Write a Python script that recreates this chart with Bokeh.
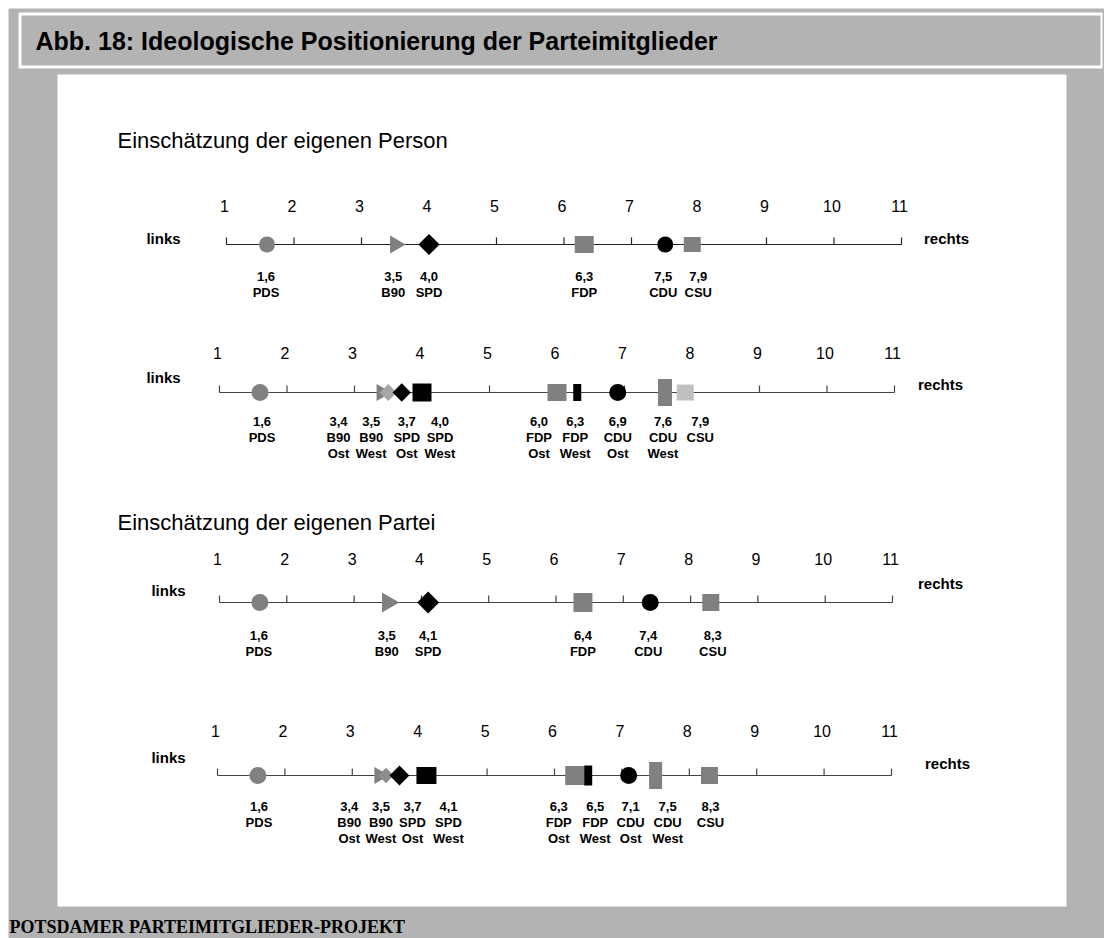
import math
from bokeh.plotting import figure
from bokeh.models import Range1d, ColumnDataSource
from bokeh.embed import file_html
from bokeh.resources import INLINE
from bokeh.core.properties import value

# ---------------- data ----------------
scale_ticks = [1, 2, 3, 4, 5, 6, 7, 8, 9, 10, 11]
tick_labels = ["1", "2", "3", "4", "5", "6", "7", "8", "9", "10", "11"]

parties_all = ["PDS", "B90", "SPD", "FDP", "CDU", "CSU"]
person_all = [1.6, 3.5, 4.0, 6.3, 7.5, 7.9]
party_all = [1.6, 3.5, 4.1, 6.4, 7.4, 8.3]

parties_split = ["PDS", "B90", "B90", "SPD", "SPD", "FDP", "FDP", "CDU", "CDU", "CSU"]
regions_split = ["", "Ost", "West", "Ost", "West", "Ost", "West", "Ost", "West", ""]
person_split = [1.6, 3.4, 3.5, 3.7, 4.0, 6.0, 6.3, 6.9, 7.6, 7.9]
party_split = [1.6, 3.4, 3.5, 3.7, 4.1, 6.3, 6.5, 7.1, 7.5, 8.3]

title_text = "Abb. 18: Ideologische Positionierung der Parteimitglieder"
heading_person = "Einschätzung der eigenen Person"
heading_party = "Einschätzung der eigenen Partei"
footer_text = "POTSDAMER PARTEIMITGLIEDER-PROJEKT"
left_word = "links"
right_word = "rechts"

# ---------------- styles ----------------
G = "#808080"
B = "#000000"
kind_all = ["circle", "triangle", "diamond", "rect", "circle", "rect"]
color_all = [G, G, B, G, B, G]
kind_split = ["circle", "triangle", "diamond", "diamond", "rect", "rect", "rect", "circle", "rect", "rect"]
color_split_person = [G, G, "#a6a6a6", B, B, G, B, B, G, "#c0c0c0"]
color_split_party = [G, G, "#8c8c8c", B, B, G, B, B, G, G]

rows = [
    dict(values=person_all, parties=parties_all, regions=[""] * 6, kinds=kind_all, colors=color_all,
         w=[16, 18, 15, 19, 16, 17], h=[16, 18, 15, 17, 16, 15],
         dx=[-1, -2, 0, 0, -2, 6],
         a=226, b=901, yl=244, tick_dy=39, lab_dy=32, axis_color="#222222",
         links=(163, 238), rechts=(946, 238)),
    dict(values=person_split, parties=parties_split, regions=regions_split, kinds=kind_split,
         colors=color_split_person,
         w=[17, 17, 12, 13, 19, 19, 8, 17, 14, 17], h=[17, 17, 12, 13, 18, 17, 17, 17, 27, 16],
         dx=[2, -43, -17, 5, 18, -18, -2, 0, -2, 15],
         a=219, b=894, yl=392, tick_dy=40, lab_dy=29, axis_color="#444444",
         links=(163, 377), rechts=(940, 384)),
    dict(values=party_all, parties=parties_all, regions=[""] * 6, kinds=kind_all, colors=color_all,
         w=[17, 20, 15.5, 19, 17, 17], h=[17, 20, 15.5, 19, 17, 17],
         dx=[-1, -1, 0, 0, -2, 2],
         a=219, b=892, yl=602, tick_dy=44, lab_dy=33, axis_color="#444444",
         links=(168, 590), rechts=(940, 583)),
    dict(values=party_split, parties=parties_split, regions=regions_split, kinds=kind_split,
         colors=color_split_party,
         w=[17, 17, 11, 14, 20, 19, 8, 17, 13, 17], h=[17, 17, 11, 14, 17, 19, 20, 17, 27, 17],
         dx=[1, -30, -5, 13, 22, -16, 7, 2, 12, 1],
         a=217, b=891, yl=775, tick_dy=45, lab_dy=31, axis_color="#444444",
         links=(168, 757), rechts=(947, 763)),
]

FONT = value("Liberation Sans")
BG = "#b3b3b3"
W, H = 1104, 938

p = figure(width=W, height=H, x_range=Range1d(0, W), y_range=Range1d(H, 0),
           x_axis_location=None, y_axis_location=None, toolbar_location=None,
           output_backend="svg", min_border=0,
           background_fill_color="white", border_fill_color="white", outline_line_color=None)
p.grid.visible = False

# decorations: gray page, title box, white panel
p.quad(left=[8], right=[W], top=[8], bottom=[H], fill_color=BG, line_color=None)
p.quad(left=[18], right=[1102], top=[12], bottom=[68], fill_color="white", line_color=None)
p.quad(left=[21], right=[1100], top=[15], bottom=[65], fill_color=BG, line_color=None)
p.quad(left=[57], right=[1066], top=[74], bottom=[906], fill_color="white", line_color=None)

p.text(x=[35], y=[40], text=[title_text], text_font=FONT, text_font_size=value("25px"),
       text_font_style="bold", text_baseline="middle", text_color="black")
p.text(x=[117], y=[140], text=[heading_person], text_font=FONT, text_font_size=value("22px"),
       text_baseline="middle", text_color="black")
p.text(x=[117], y=[522], text=[heading_party], text_font=FONT, text_font_size=value("22px"),
       text_baseline="middle", text_color="black")
p.text(x=[9], y=[926], text=[footer_text], text_font=value("Liberation Serif"),
       text_font_size=value("18px"), text_font_style="bold", text_baseline="middle",
       text_color="black")

for i, r in enumerate(rows):
    name = f"row{i}"
    u = (r["b"] - r["a"]) / 10.0
    p.extra_x_ranges[name] = Range1d(1 - r["a"] / u, 1 + (W - r["a"]) / u)
    p.extra_y_ranges[name] = Range1d(r["yl"] - H, r["yl"])
    kw = dict(x_range_name=name, y_range_name=name)

    # axis line with ticks and tick labels
    p.segment(x0=[scale_ticks[0]], y0=[0], x1=[scale_ticks[-1]], y1=[0],
              line_color=r["axis_color"], line_width=1.2, **kw)
    p.segment(x0=scale_ticks, y0=[0] * len(scale_ticks), x1=scale_ticks, y1=[7] * len(scale_ticks),
              line_color=r["axis_color"], line_width=1.2, **kw)
    p.text(x=scale_ticks, y=[r["tick_dy"]] * len(scale_ticks), text=tick_labels, x_offset=-2,
           text_font=FONT, text_font_size=value("16px"), text_align="center",
           text_baseline="middle", text_color="black", **kw)

    # links / rechts (page-pixel coordinates)
    p.text(x=[r["links"][0]], y=[r["links"][1]], text=[left_word], text_font=FONT,
           text_font_size=value("15px"), text_font_style="bold", text_align="center",
           text_baseline="middle", text_color="black")
    p.text(x=[r["rechts"][0]], y=[r["rechts"][1]], text=[right_word], text_font=FONT,
           text_font_size=value("15px"), text_font_style="bold", text_align="center",
           text_baseline="middle", text_color="black")

    # markers
    vals = r["values"]
    n = len(vals)

    def sel(kinds):
        idx = [j for j in range(n) if r["kinds"][j] in kinds]
        return ColumnDataSource(dict(
            x=[vals[j] for j in idx], y=[0] * len(idx),
            w=[r["w"][j] for j in idx], h=[r["h"][j] for j in idx],
            c=[r["colors"][j] for j in idx],
            ang=[math.pi / 4 if r["kinds"][j] == "diamond" else 0.0 for j in idx]))

    src_t = sel(["triangle"])
    p.scatter(x="x", y="y", size="h", marker="triangle", angle=-math.pi / 2,
              fill_color="c", line_color=None, source=src_t, **kw)
    src_r = sel(["rect", "diamond"])
    p.rect(x="x", y="y", width="w", height="h", angle="ang", width_units="screen",
           height_units="screen", fill_color="c", line_color=None, source=src_r, **kw)
    src_c = sel(["circle"])
    p.scatter(x="x", y="y", size="w", marker="circle", fill_color="c", line_color=None,
              source=src_c, **kw)

    # value labels
    src_l = ColumnDataSource(dict(
        x=vals,
        v=[f"{v:.1f}".replace(".", ",") for v in vals],
        pty=r["parties"], reg=r["regions"], dx=r["dx"]))
    for k, col in enumerate(["v", "pty", "reg"]):
        p.text(x="x", y=-(r["lab_dy"] + 16 * k), text=col, x_offset="dx", source=src_l,
               text_font=FONT, text_font_size=value("13px"), text_font_style="bold",
               text_align="center", text_baseline="middle", text_color="black", **kw)

open("out.html", "w").write(file_html(p, INLINE))
